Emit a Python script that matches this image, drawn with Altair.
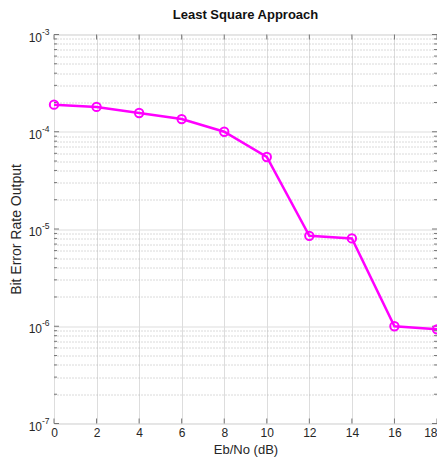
import altair as alt
import pandas as pd

ebno = [0, 2, 4, 6, 8, 10, 12, 14, 16, 18]
ber = [1.90e-4, 1.80e-4, 1.56e-4, 1.35e-4, 1.0e-4, 5.5e-5, 8.5e-6, 8.0e-6, 1.0e-6, 9.3e-7]
x_ticks = [0, 2, 4, 6, 8, 10, 12, 14, 16, 18]
decades = [-7, -6, -5, -4, -3]

W, H = 383, 389
font = "Liberation Sans"
axis_col = "#777777"
text_col = "#262626"

df = pd.DataFrame({"ebno": ebno, "ber": ber})

y_values = []
for d in decades:
    for m in range(1, 10):
        v = m * 10.0 ** d
        if v <= 1e-3 * 1.0001:
            y_values.append({"v": v, "major": m == 1})
ydf = pd.DataFrame(y_values)
dec_df = pd.DataFrame({"v": [10.0 ** d for d in decades], "sup": [str(d) for d in decades]})
xdf = pd.DataFrame({"t": x_ticks})

is_decade = "abs(log(datum.value)/LN10 - round(log(datum.value)/LN10)) < 1e-6"

xscale = alt.Scale(domain=[0, 18], nice=False)
yscale = alt.Scale(type="log", domain=[1e-7, 1e-3], nice=False)

x = alt.X(
    "ebno:Q",
    scale=xscale,
    axis=alt.Axis(
        values=x_ticks,
        title="Eb/No (dB)",
        titleFont=font,
        titleFontSize=13,
        titleFontWeight="normal",
        titleColor=text_col,
        titlePadding=5,
        labelFont=font,
        labelFontSize=12,
        labelColor=text_col,
        labelPadding=4,
        labelAlign={"condition": {"test": "datum.value >= 18", "value": "right"}, "value": "center"},
        ticks=False,
        domain=False,
        gridColor="#dddddd",
        gridWidth=1,
        labelFlush=False,
    ),
)

y = alt.Y(
    "ber:Q",
    scale=yscale,
    axis=alt.Axis(
        values=[r["v"] for r in y_values],
        labels=False,
        ticks=False,
        domain=False,
        title="Bit Error Rate Output",
        titleFont=font,
        titleFontSize=14,
        titleFontWeight="normal",
        titleColor=text_col,
        titlePadding=0,
        titleX=-31,
        gridColor={"condition": {"test": is_decade, "value": "#dddddd"}, "value": "#b5b5b5"},
        gridDash={"condition": {"test": is_decade, "value": []}, "value": [1, 2]},
        gridWidth=1,
    ),
)

line = alt.Chart(df).mark_line(color="#ff00ff", strokeWidth=2.5).encode(x=x, y=y)
pts = alt.Chart(df).mark_point(
    shape="circle", size=70, color="#ff00ff", strokeWidth=2, filled=False, opacity=1
).encode(x=alt.X("ebno:Q", scale=xscale), y=alt.Y("ber:Q", scale=yscale))

# y labels: "10" with superscript exponent
lab10 = alt.Chart(dec_df).mark_text(
    text="10", align="right", baseline="middle", font=font, fontSize=12, color=text_col, dy=3
).encode(x=alt.value(-12), y=alt.Y("v:Q", scale=yscale))
labsup = alt.Chart(dec_df).mark_text(
    align="left", baseline="middle", font=font, fontSize=8.5, color=text_col, dy=-3
).encode(x=alt.value(-12), y=alt.Y("v:Q", scale=yscale), text="sup:N")


def yticks(major, length):
    base = alt.Chart(ydf).transform_filter(
        "datum.major" if major else "!datum.major"
    )
    left = base.mark_rule(color=axis_col, strokeWidth=1).encode(
        x=alt.value(0), x2=alt.value(length), y=alt.Y("v:Q", scale=yscale)
    )
    right = base.mark_rule(color=axis_col, strokeWidth=1).encode(
        x=alt.value(W), x2=alt.value(W - length), y=alt.Y("v:Q", scale=yscale)
    )
    return [left, right]


xtick_b = alt.Chart(xdf).mark_rule(color=axis_col, strokeWidth=1).encode(
    x=alt.X("t:Q", scale=xscale), y=alt.value(H), y2=alt.value(H - 5)
)
xtick_t = alt.Chart(xdf).mark_rule(color=axis_col, strokeWidth=1).encode(
    x=alt.X("t:Q", scale=xscale), y=alt.value(0), y2=alt.value(5)
)

layers = [line] + yticks(True, 5) + yticks(False, 3) + [xtick_b, xtick_t, pts, lab10, labsup]

chart = (
    alt.layer(*layers)
    .properties(
        width=W,
        height=H,
        title=alt.TitleParams(
            "Least Square Approach",
            font=font,
            fontSize=13,
            fontWeight="bold",
            color="#111",
            offset=6,
        ),
        autosize=alt.AutoSizeParams(type="none"),
        padding={"left": 46, "top": 26.5, "right": 0, "bottom": 34},
    )
    .configure_view(stroke=axis_col, strokeWidth=1.2)
    .configure(background="white")
)

chart.save("out.html", embed_options={"renderer": "svg", "actions": False})
